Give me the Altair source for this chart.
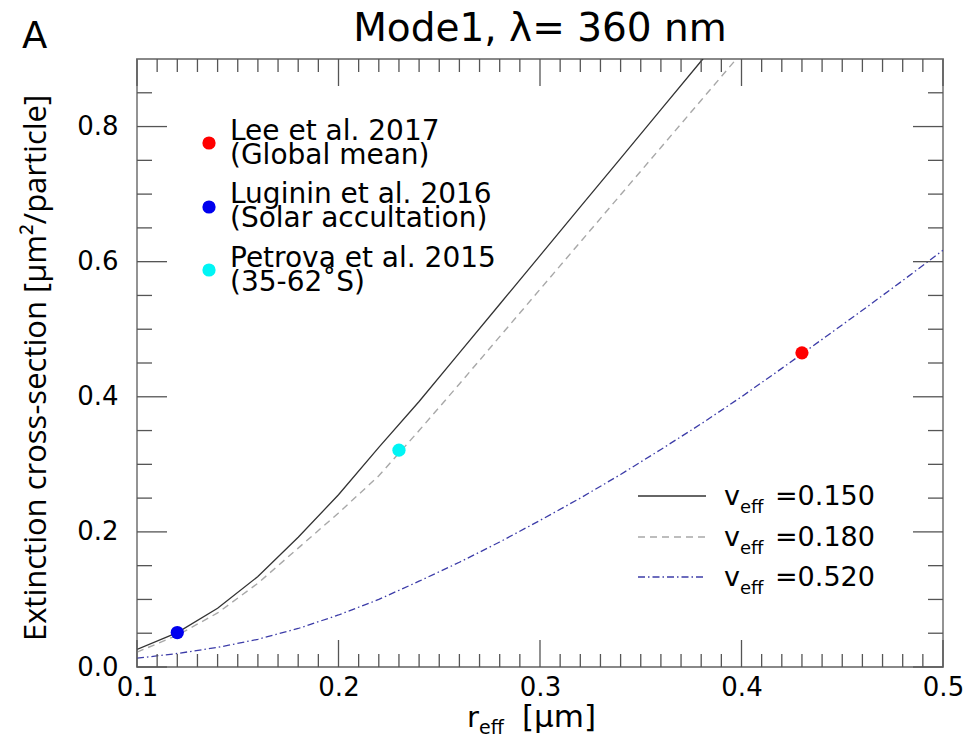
import altair as alt
import pandas as pd

# ---------------- data ----------------
r_grid = [0.10, 0.12, 0.14, 0.16, 0.18, 0.20, 0.22, 0.24, 0.26, 0.28, 0.30,
          0.32, 0.34, 0.36, 0.38, 0.40, 0.42, 0.44, 0.46, 0.48, 0.50]
c_v150 = [0.026, 0.051, 0.087, 0.134, 0.192, 0.255, 0.325, 0.393, 0.465, 0.537, 0.609,
          0.681, 0.753, 0.825, 0.897, 0.969, 1.041, 1.113, 1.185, 1.257, 1.329]
c_v180 = [0.022, 0.047, 0.080, 0.124, 0.176, 0.228, 0.283, 0.350, 0.419, 0.489, 0.559,
          0.629, 0.699, 0.769, 0.839, 0.909, 0.979, 1.049, 1.119, 1.189, 1.259]
c_v520 = [0.013, 0.020, 0.029, 0.041, 0.057, 0.077, 0.100, 0.127, 0.155, 0.185, 0.217,
          0.250, 0.285, 0.322, 0.360, 0.400, 0.442, 0.485, 0.528, 0.572, 0.617]

obs_names = ["Lee et al. 2017", "Luginin et al. 2016", "Petrova et al. 2015"]
obs_notes = ["(Global mean)", "(Solar accultation)", "(35-62˚S)"]
obs_r = [0.43, 0.12, 0.23]
obs_c = [0.465, 0.051, 0.321]
obs_colors = ["#ff0000", "#0000ee", "#00f5f5"]

veff_labels = ["=0.150", "=0.180", "=0.520"]

x_major = [0.1, 0.2, 0.3, 0.4, 0.5]
x_minor = [round(0.1 + 0.01 * i, 2) for i in range(1, 40) if i % 10 != 0]
y_major = [0.0, 0.2, 0.4, 0.6, 0.8]
y_minor = [round(0.05 * i, 2) for i in range(1, 18) if i % 4 != 0]

W, H = 806, 608
FONT = "DejaVu Sans"

xs = alt.Scale(domain=[0.1, 0.5], nice=False, zero=False)
ys = alt.Scale(domain=[0.0, 0.9], nice=False, zero=False)
xaxis = alt.Axis(values=x_major, format=".1f", ticks=False, domain=False, grid=False,
                 labelFontSize=26, labelFont=FONT, labelColor="black", labelPadding=7,
                 labelFlush=False, labelOverlap=False, title=None)
yaxis = alt.Axis(values=y_major, format=".1f", ticks=False, domain=False, grid=False,
                 labelFontSize=26, labelFont=FONT, labelColor="black", labelPadding=19,
                 labelFlush=False, labelOverlap=False, title=None)
X = alt.X("r:Q", scale=xs, axis=xaxis)
Y = alt.Y("c:Q", scale=ys, axis=yaxis)

TICK_COLOR = "#555555"

def xticks(vals, length, top):
    df = pd.DataFrame({"r": vals})
    if top:
        enc = dict(y=alt.value(0), y2=alt.value(length))
    else:
        enc = dict(y=alt.value(H), y2=alt.value(H - length))
    return alt.Chart(df).mark_rule(color=TICK_COLOR, strokeWidth=1.3).encode(x=X, **enc)

def yticks(vals, length, right):
    df = pd.DataFrame({"c": vals})
    if right:
        enc = dict(x=alt.value(W), x2=alt.value(W - length))
    else:
        enc = dict(x=alt.value(0), x2=alt.value(length))
    return alt.Chart(df).mark_rule(color=TICK_COLOR, strokeWidth=1.3).encode(y=Y, **enc)

def text_at(x, y, txt, size, align="left", baseline="alphabetic", font=FONT, angle=0):
    kw = dict(fontSize=size, font=font, align=align, baseline=baseline, color="black")
    if angle:
        kw["angle"] = angle
    return alt.Chart(alt.Data(values=[{}])).mark_text(**kw).encode(
        x=alt.value(x), y=alt.value(y), text=alt.value(txt))

def line_layer(vals, color, dash, width):
    df = pd.DataFrame({"r": r_grid, "c": vals})
    kw = dict(color=color, strokeWidth=width, clip=True)
    if dash:
        kw["strokeDash"] = dash
    return alt.Chart(df).mark_line(**kw).encode(x=X, y=Y)

layers = []
layers.append(line_layer(c_v520, "#3c3ca8", [7, 3, 1.5, 3], 1.3))
layers.append(line_layer(c_v180, "#a8a8a8", [7, 5], 1.4))
layers.append(line_layer(c_v150, "#333333", None, 1.3))

obs_df = pd.DataFrame({"r": obs_r, "c": obs_c, "name": obs_names})
layers.append(alt.Chart(obs_df).mark_point(filled=True, size=175, opacity=1, shape="circle").encode(
    x=X, y=Y,
    color=alt.Color("name:N", scale=alt.Scale(domain=obs_names, range=obs_colors), legend=None)))

# ticks on all four sides, pointing inward
layers += [xticks(x_major, 27, False), xticks(x_minor, 13, False),
           xticks(x_major, 27, True), xticks(x_minor, 13, True),
           yticks(y_major, 30, False), yticks(y_minor, 15, False),
           yticks(y_major, 30, True), yticks(y_minor, 15, True)]

# observation legend (top-left)
leg_dot_y = [84, 148, 211]
leg_txt_y = [81, 144, 208]
for i in range(3):
    layers.append(alt.Chart(alt.Data(values=[{}])).mark_point(
        filled=True, size=175, opacity=1, shape="circle", color=obs_colors[i]).encode(
        x=alt.value(72), y=alt.value(leg_dot_y[i])))
    layers.append(text_at(93, leg_txt_y[i], obs_names[i], 28))
    layers.append(text_at(93, leg_txt_y[i] + 24, obs_notes[i], 28))

# line-style legend (bottom-right)
leg_line_y = [437, 478, 518]
leg_styles = [("#333333", None), ("#a8a8a8", [7, 5]), ("#3c3ca8", [7, 3, 1.5, 3])]
for i in range(3):
    col, dash = leg_styles[i]
    kw = dict(color=col, strokeWidth=1.3)
    if dash:
        kw["strokeDash"] = dash
    layers.append(alt.Chart(alt.Data(values=[{}])).mark_rule(**kw).encode(
        x=alt.value(501), x2=alt.value(569), y=alt.value(leg_line_y[i])))
    base = leg_line_y[i] + 9
    layers.append(text_at(587, base, "v", 27))
    layers.append(text_at(603, base + 8, "eff", 18))
    layers.append(text_at(638, base, veff_labels[i], 27))

# titles
layers.append(text_at(W / 2, -18, "Mode1, λ= 360 nm", 39, align="center"))
layers.append(text_at(-115, -11, "A", 37))
layers.append(text_at(-100, 309, "Extinction cross-section [μm²/particle]", 31,
                      align="center", baseline="middle", font="Open Sans", angle=270))
layers.append(text_at(330, 668, "r", 29))
layers.append(text_at(342, 675, "eff", 19))
layers.append(text_at(385, 668, "[μm]", 31))

chart = alt.layer(*layers).properties(
    width=W, height=H,
    autosize=alt.AutoSizeParams(type="none"),
    padding={"left": 137, "top": 59, "right": 29, "bottom": 76},
    background="white",
).configure_view(stroke="#888888", strokeWidth=1.8)

chart.save("out.html", embed_options={"renderer": "svg", "actions": False})
